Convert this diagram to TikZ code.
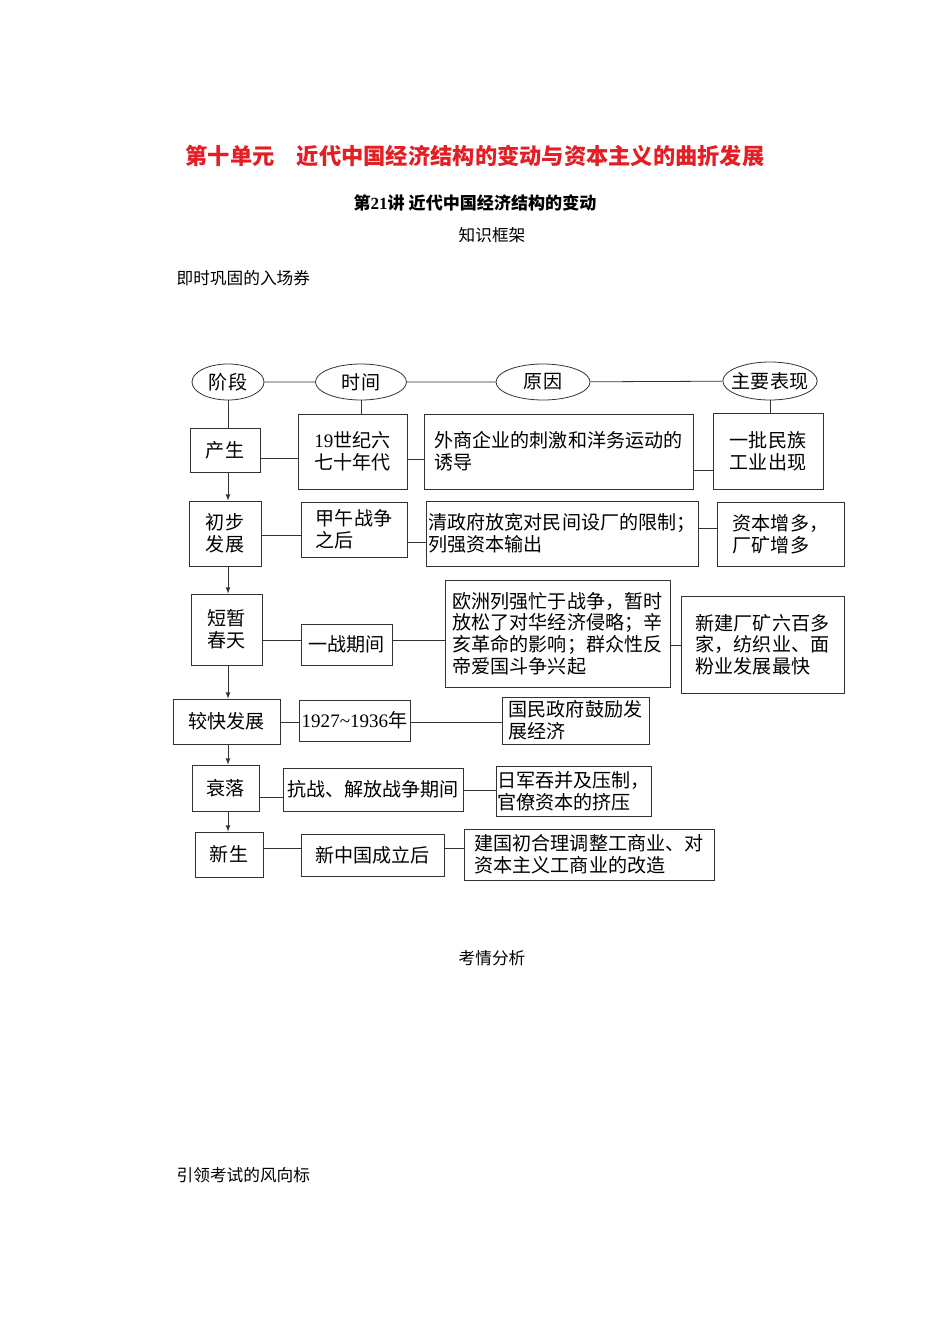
\documentclass[tikz,border=0pt]{standalone}
\usepackage{fontspec}
\setmainfont{Noto Sans CJK SC}
\newfontfamily\latin{Liberation Serif}
\usetikzlibrary{shapes.geometric}
\definecolor{unitred}{RGB}{228,30,36}
\begin{document}
\begin{tikzpicture}[x=0.75pt,y=-0.75pt,
  every node/.style={font=\fontsize{14.3}{16.3}\selectfont},
  box/.style={draw=black!80,line width=0.6pt,inner sep=1pt,align=left},
  tag/.style={draw=black!80,line width=0.6pt,ellipse,inner xsep=-3.6pt,inner ysep=0pt,minimum height=27pt},
  link/.style={draw=black!80,line width=0.6pt},
  >=latex]
\useasboundingbox[fill=white] (0,0) rectangle (950,1344);
% headings
\node[font=\fontsize{16.7}{20}\selectfont\bfseries,text=unitred] (title) at (475,156) {第十单元　近代中国经济结构的变动与资本主义的曲折发展};
\node[font=\fontsize{12.8}{15}\selectfont\bfseries] (lesson) at (475,203) {第{\latin\bfseries 21}讲 近代中国经济结构的变动};
\node[font=\fontsize{12.5}{15}\selectfont] (frame) at (492,235) {知识框架};
\node[font=\fontsize{12.5}{15}\selectfont,anchor=west] (drill) at (172,278) {即时巩固的入场券};
\node[font=\fontsize{12.5}{15}\selectfont] (trend) at (492,958) {考情分析};
\node[font=\fontsize{12.5}{15}\selectfont,anchor=west] (exam) at (172,1175) {引领考试的风向标};
% header row
\node[tag,minimum width=54pt] (stage) at (228,382) {阶段};
\node[tag,minimum width=68.25pt] (time) at (361,382) {时间};
\node[tag,minimum width=70.5pt] (cause) at (543,382) {原因};
\node[tag,minimum width=70.5pt,minimum height=28.5pt] (show) at (770,381) {主要表现};
% stages
\node[box,minimum width=52.5pt,minimum height=33pt] (s1) at (225,450) {产生};
\node[box,minimum width=54pt,minimum height=48.75pt] (s2) at (225,533.5) {初步\\发展};
\node[box,minimum width=53.25pt,minimum height=53.25pt] (s3) at (226.5,629.5) {短暂\\春天};
\node[box,minimum width=80.25pt,minimum height=33.75pt] (s4) at (226.5,721.5) {较快发展};
\node[box,minimum width=50.25pt,minimum height=34.5pt] (s5) at (225.5,788) {衰落};
\node[box,minimum width=51pt,minimum height=33.75pt] (s6) at (229,854.5) {新生};
% times
\node[box,minimum width=81.75pt,minimum height=56.25pt] (t1) at (352.5,451.5) {{\latin 19}世纪六\\七十年代};
\node[box,minimum width=79.5pt,minimum height=41.25pt] (t2) at (354,529.5) {甲午战争\\之后};
\node[box,minimum width=68.25pt,minimum height=30.75pt] (t3) at (346.5,644.5) {一战期间};
\node[box,minimum width=83.25pt,minimum height=30.75pt] (t4) at (354.5,720.5) {{\latin 1927\textasciitilde1936}年};
\node[box,minimum width=135pt,minimum height=32.25pt] (t5) at (373,789.5) {抗战、解放战争期间};
\node[box,minimum width=107.25pt,minimum height=31.5pt] (t6) at (372.5,855) {新中国成立后};
% causes
\node[box,minimum width=201.75pt,minimum height=56.25pt] (c1) at (558.5,451.5) {外商企业的刺激和洋务运动的\\诱导};
\node[box,minimum width=204pt,minimum height=48.75pt] (c2) at (562,533.5) {清政府放宽对民间设厂的限制；\\列强资本输出};
\node[box,minimum width=168.75pt,minimum height=80.25pt] (c3) at (557.5,633.5) {欧洲列强忙于战争，暂时\\放松了对华经济侵略；辛\\亥革命的影响；群众性反\\帝爱国斗争兴起};
\node[box,minimum width=110.25pt,minimum height=35.25pt] (c4) at (575.5,720.5) {国民政府鼓励发\\展经济};
\node[box,minimum width=114.75pt,minimum height=37.5pt] (c5) at (573.5,791) {日军吞并及压制，\\官僚资本的挤压};
\node[box,minimum width=187.5pt,minimum height=38.25pt] (c6) at (589,854.5) {建国初合理调整工商业、对\\资本主义工商业的改造};
% results
\node[box,minimum width=82.5pt,minimum height=57pt] (m1) at (768,451) {一批民族\\工业出现};
\node[box,minimum width=95.25pt,minimum height=48pt] (m2) at (780.5,534) {资本增多，\\厂矿增多};
\node[box,minimum width=122.25pt,minimum height=72.75pt] (m3) at (762.5,644.5) {新建厂矿六百多\\家，纺织业、面\\粉业发展最快};
% connectors
\draw[link] (stage) -- (time) -- (cause) -- (show);
\draw[link] (stage.south) -- (stage.south |- s1.north);
\draw[link] (time.south) -- (time.south |- t1.north);
\draw[link] (show.south) -- (show.south |- m1.north);
\foreach \a/\b in {s1/s2,s2/s3,s3/s4,s4/s5,s5/s6}
  \draw[link,->] (\a.south -| 228,0) -- (\b.north -| 228,0);
\foreach \a/\b/\y in {s1/t1/458,t1/c1/459,c1/m1/470,s2/t2/535,t2/c2/542,c2/m2/528,
  s3/t3/640,t3/c3/640,c3/m3/645,s4/t4/722,t4/c4/722,s5/t5/797,t5/c5/790,s6/t6/848,t6/c6/848}
  \draw[link] (\a.east |- 0,\y) -- (\b.west |- 0,\y);
\end{tikzpicture}
\end{document}
